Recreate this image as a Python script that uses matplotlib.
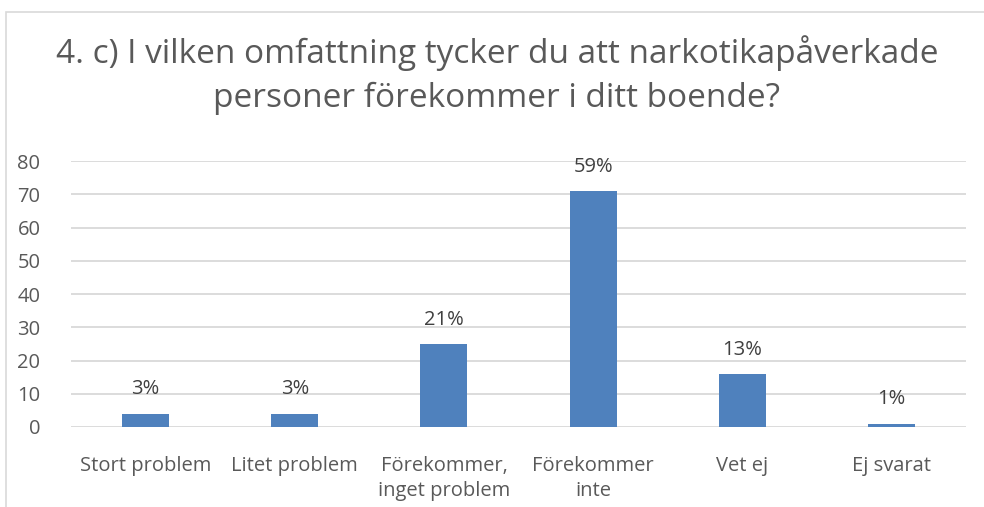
import numpy as np
import matplotlib
matplotlib.use("Agg")
from matplotlib import pyplot as plt
from matplotlib.patches import Rectangle

plt.rcParams['font.family'] = ['Open Sans', 'DejaVu Sans']

# data
categories = ['Stort problem', 'Litet problem', 'Förekommer,\ninget problem',
              'Förekommer\ninte', 'Vet ej', 'Ej svarat']
counts = [4, 4, 25, 71, 16, 1]
pct_labels = ['3%', '3%', '21%', '59%', '13%', '1%']
title = '4. c) I vilken omfattning tycker du att narkotikapåverkade\npersoner förekommer i ditt boende?'

fig = plt.figure(figsize=(9.84, 5.07), dpi=100)
ax = fig.add_axes([0.0722, 0.1578, 0.9095, 0.5246])

x = np.arange(len(categories))
ax.bar(x, counts, width=0.315, color='#4F81BD', zorder=3)
for xi, c, lab in zip(x, counts, pct_labels):
	ax.text(xi, c + 7.3, lab, ha='center', va='center', fontsize=14.5, color='#404040')

ax.set_xlim(-0.5, len(categories) - 0.5)
ax.set_ylim(0, 80)
ax.set_yticks(range(0, 81, 10))
ax.grid(axis='y', color='#D9D9D9', linewidth=1.3, zorder=0)
ax.set_xticks(x)
ax.set_xticklabels(categories, fontsize=14.5, color='#595959', linespacing=1.35)
ax.tick_params(axis='y', labelsize=14.5, labelcolor='#595959', length=0, pad=22)
ax.tick_params(axis='x', length=0, pad=21)
for s in ax.spines.values():
	s.set_visible(False)

fig.text(0.505, 0.852, title, ha='center', va='center', fontsize=24, color='#595959',
		 linespacing=1.4)

# chart frame
fig.patches.append(Rectangle((6/984, -0.1), 1.2, 1 - 12/507 + 0.1, transform=fig.transFigure,
							 fill=False, edgecolor='#D9D9D9', linewidth=1.2))

fig.savefig('out.png', dpi=100)
